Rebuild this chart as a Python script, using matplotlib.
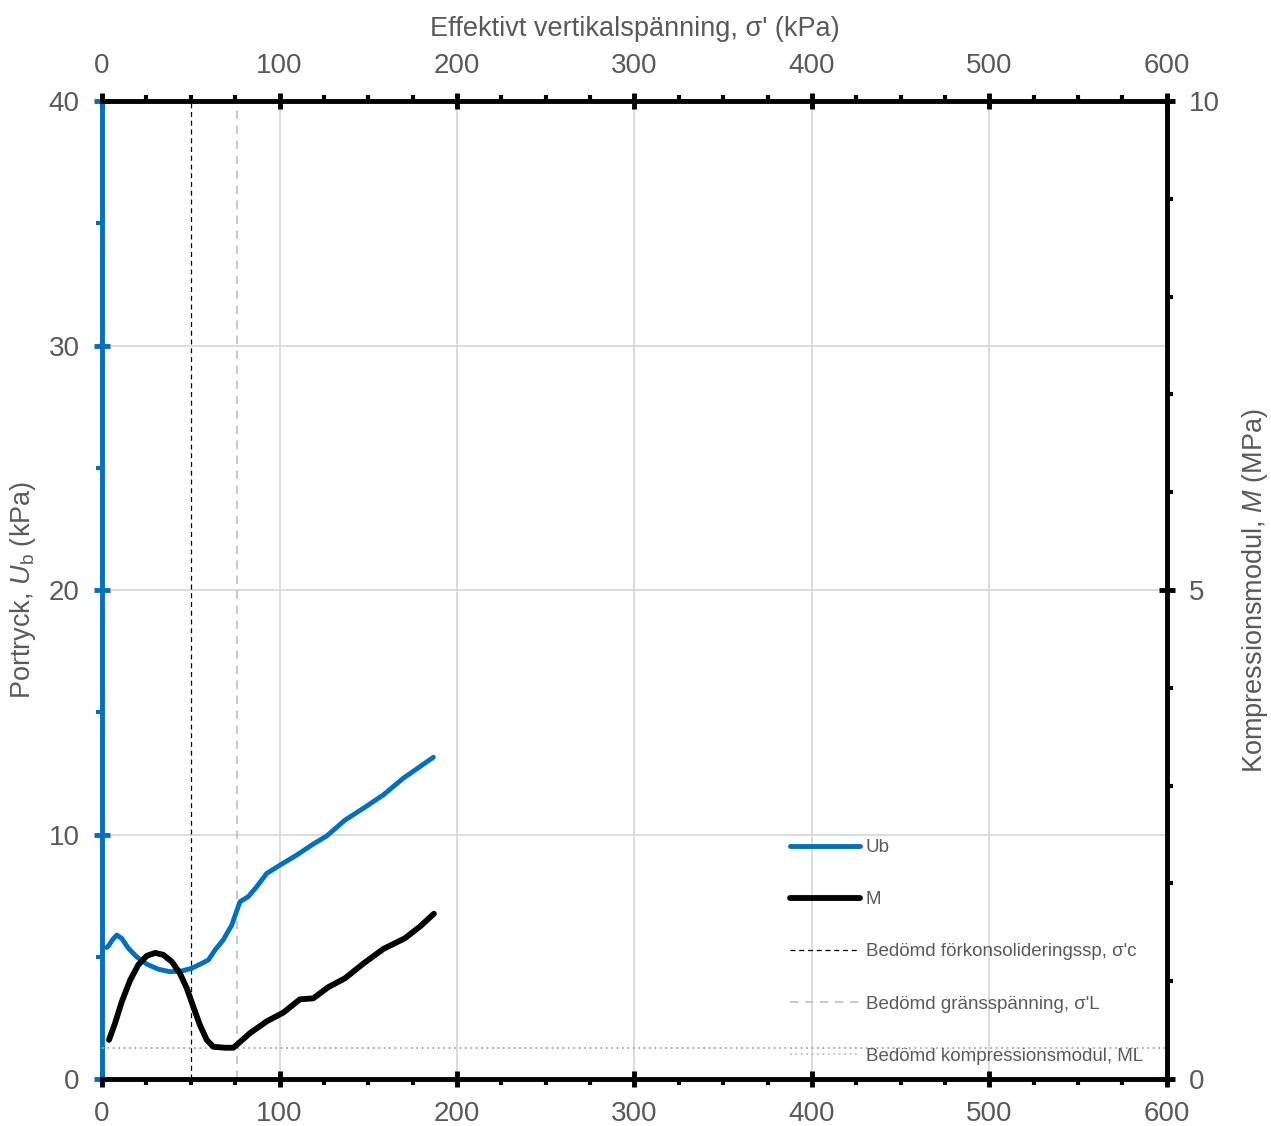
import matplotlib.pyplot as plt
from matplotlib.ticker import MultipleLocator
from matplotlib.lines import Line2D

plt.rcParams['font.family'] = ['Liberation Sans', 'DejaVu Sans']
plt.rcParams['mathtext.fontset'] = 'custom'
plt.rcParams['mathtext.rm'] = 'Liberation Sans'
plt.rcParams['mathtext.it'] = 'Liberation Sans:italic'

# Porttryck Ub (kPa) mot effektiv vertikalspänning (kPa)
ub_x = [2.6, 3.6, 5.8, 8.3, 11.1, 14.8, 19.5, 25.2, 31.7, 38.3, 44.9, 50.5, 56.2, 59.9,
        63.7, 68.3, 73.1, 77.7, 82.4, 87.2, 92.8, 100.3, 109.7, 119.0, 126.6, 136.9,
        147.2, 158.5, 169.7, 186.7]
ub_y = [5.38, 5.44, 5.69, 5.89, 5.75, 5.35, 5.00, 4.70, 4.49, 4.39, 4.42, 4.53, 4.73, 4.87,
        5.28, 5.69, 6.30, 7.25, 7.46, 7.87, 8.41, 8.75, 9.16, 9.61, 9.94, 10.59,
        11.07, 11.62, 12.30, 13.16]

# Kompressionsmodul M (MPa)
m_x = [3.9, 7.3, 11.1, 15.8, 20.5, 25.2, 29.9, 34.5, 39.3, 43.9, 47.7, 51.4, 55.2, 59.0,
       62.7, 69.3, 74.0, 83.4, 92.8, 102.2, 111.5, 119.0, 127.5, 136.9, 147.2, 158.5,
       170.7, 179.2, 187.0]
m_y = [0.40, 0.57, 0.79, 1.01, 1.17, 1.26, 1.29, 1.27, 1.20, 1.08, 0.93, 0.74, 0.55, 0.40,
       0.33, 0.32, 0.32, 0.47, 0.59, 0.68, 0.815, 0.825, 0.94, 1.03, 1.18, 1.33,
       1.44, 1.56, 1.69]

sigma_c = 50      # förkonsolideringsspänning
sigma_L = 76      # gränsspänning
M_L = 0.32        # kompressionsmodul ML (MPa)

blue = '#0070C0'
grey_txt = '#595959'

fig = plt.figure(figsize=(12.71, 11.26), dpi=100)
ax = fig.add_axes([0.0803, 0.0417, 0.8377, 0.8686])
ax2 = ax.twinx()

ax.set_xlim(0, 600)
ax.set_ylim(0, 40)
ax2.set_ylim(0, 10)

ax.xaxis.set_major_locator(MultipleLocator(100))
ax.xaxis.set_minor_locator(MultipleLocator(25))
ax.yaxis.set_major_locator(MultipleLocator(10))
ax.yaxis.set_minor_locator(MultipleLocator(5))
ax2.yaxis.set_major_locator(MultipleLocator(5))
ax2.yaxis.set_minor_locator(MultipleLocator(1))

ax.grid(True, which='major', color='#d9d9d9', lw=1.3, zorder=0)
ax.set_axisbelow(True)

# linjer
ax.plot(ub_x, ub_y, color=blue, lw=3.5, solid_capstyle='round', solid_joinstyle='round', zorder=3)
ax2.plot(m_x, m_y, color='black', lw=4.2, solid_capstyle='round', solid_joinstyle='round', zorder=3)
ax.axvline(sigma_c, color='black', lw=0.9, ls=(0, (4, 3)), zorder=2)
ax.axvline(sigma_L, color='#bfbfbf', lw=1.2, ls=(0, (5, 4)), zorder=2)
ax2.axhline(M_L, color='#a6a6a6', lw=1.3, ls=(0, (1, 2)), zorder=2)

# spines
for s in ['top', 'bottom']:
    ax.spines[s].set_linewidth(3.5)
    ax.spines[s].set_color('black')
ax.spines['left'].set_linewidth(3.5)
ax.spines['left'].set_color(blue)
ax.spines['right'].set_visible(False)
for s in ['top', 'bottom', 'left']:
    ax2.spines[s].set_visible(False)
ax2.spines['right'].set_linewidth(3.5)
ax2.spines['right'].set_color('black')

ax.tick_params(axis='x', which='major', direction='inout', length=12, width=3.5,
               color='black', top=True, labeltop=True, labelsize=20,
               labelcolor=grey_txt, pad=10)
ax.tick_params(axis='x', which='minor', direction='out', length=4, width=3,
               color='black', top=True)
ax.tick_params(axis='y', which='major', direction='inout', length=12, width=3.5,
               color=blue, labelsize=20, labelcolor=grey_txt, pad=10)
ax.tick_params(axis='y', which='minor', direction='out', length=4, width=3, color=blue)
ax2.tick_params(axis='y', which='major', direction='inout', length=12, width=3.5,
                color='black', labelsize=20, labelcolor=grey_txt, pad=10)
ax2.tick_params(axis='y', which='minor', direction='out', length=4, width=3, color='black')

ax.xaxis.set_label_position('top')
ax.set_xlabel("Effektivt vertikalspänning, σ' (kPa)", fontsize=19.5, color=grey_txt, labelpad=12)
ax.set_ylabel(r"Portryck, $\mathit{U}_{\mathrm{b}}$ (kPa)", fontsize=19.5, color=grey_txt, labelpad=7.5)
ax2.set_ylabel(r"Kompressionsmodul, $\mathit{M}$ (MPa)", fontsize=19.5, color=grey_txt, labelpad=14.5)

handles = [
    Line2D([], [], color=blue, lw=3.5, solid_capstyle='round'),
    Line2D([], [], color='black', lw=4.2, solid_capstyle='round'),
    Line2D([], [], color='black', lw=0.9, ls=(0, (4, 3))),
    Line2D([], [], color='#bfbfbf', lw=1.2, ls=(0, (5, 4))),
    Line2D([], [], color='#bfbfbf', lw=1.3, ls=(0, (1, 2))),
]
labels = ['Ub', 'M', "Bedömd förkonsolideringssp, σ'c", "Bedömd gränsspänning, σ'L",
          'Bedömd kompressionsmodul, ML']
leg = ax2.legend(handles, labels, loc='upper left', bbox_to_anchor=(790 / 1271, 1 - 839 / 1126),
                 bbox_transform=fig.transFigure, frameon=False, fontsize=13.5,
                 labelspacing=1.87, handlelength=3.73, handletextpad=0.3,
                 borderpad=0, borderaxespad=0)
for t in leg.get_texts():
    t.set_color(grey_txt)

fig.savefig('out.png', dpi=100)
